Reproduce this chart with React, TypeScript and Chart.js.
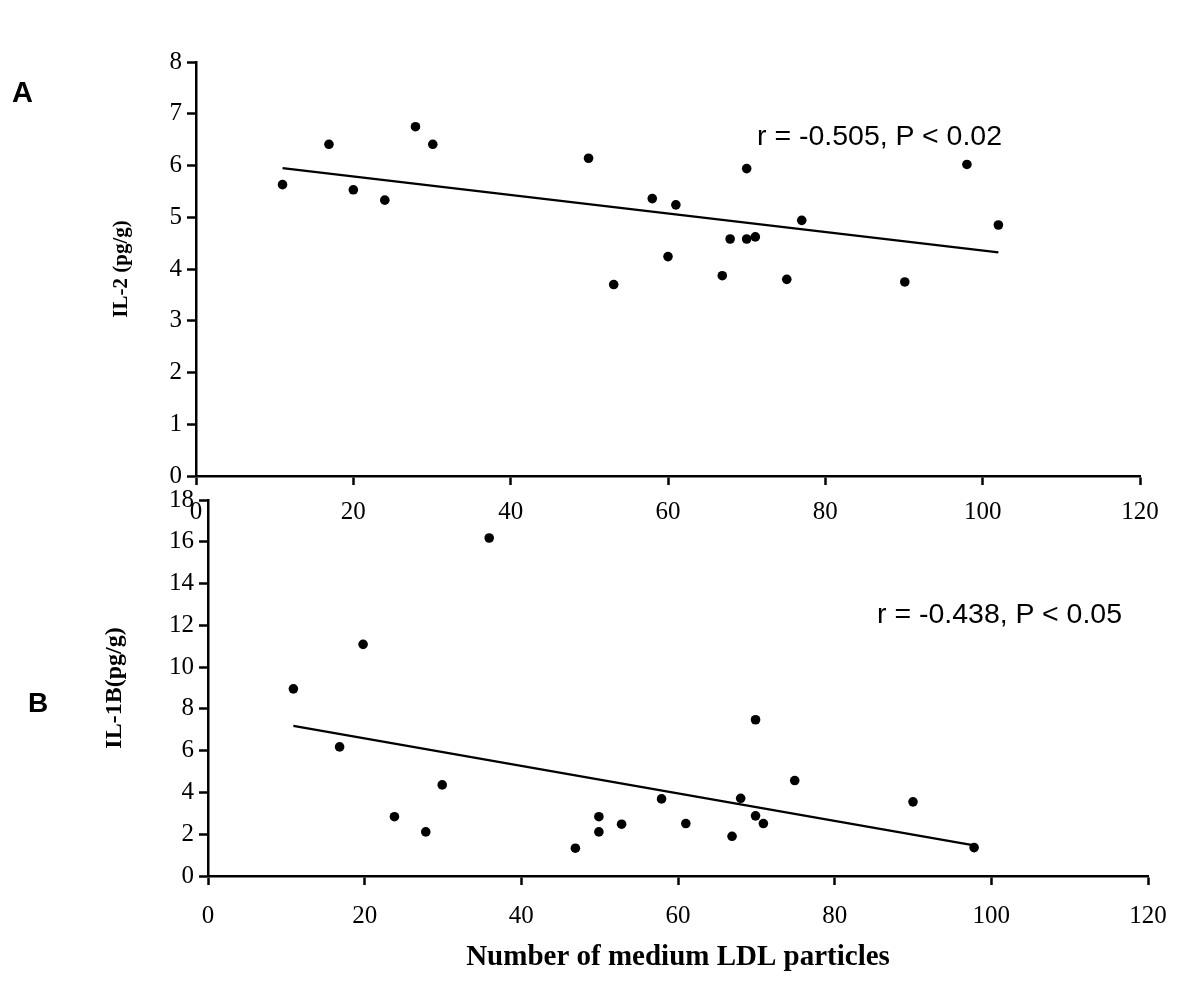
import React, { useEffect, useRef } from "react";
import { Chart, registerables } from "chart.js";

Chart.register(...registerables);

// ---------- Data ----------
// Panel A: IL-2 (pg/g) vs number of medium LDL particles
const aX = [11.0, 16.9, 20.0, 24.0, 27.9, 30.1, 49.9, 53.1, 58.0, 60.0, 61.0, 66.9, 67.9, 70.0, 70.0, 71.1, 75.1, 77.0, 90.1, 98.0, 102.0];
const aY = [5.63, 6.41, 5.53, 5.33, 6.75, 6.41, 6.14, 3.70, 5.36, 4.24, 5.24, 3.87, 4.58, 5.94, 4.58, 4.62, 3.80, 4.94, 3.75, 6.02, 4.85];
const aTrendX = [11, 102];
const aTrendY = [5.95, 4.32];

// Panel B: IL-1B (pg/g) vs number of medium LDL particles
const bX = [10.9, 16.8, 19.8, 23.8, 27.8, 29.9, 35.9, 46.9, 49.9, 49.9, 52.8, 57.9, 61.0, 66.9, 68.0, 69.9, 69.9, 70.9, 74.9, 90.0, 97.8];
const bY = [8.96, 6.18, 11.09, 2.84, 2.11, 4.36, 16.18, 1.33, 2.84, 2.11, 2.48, 3.69, 2.51, 1.90, 3.72, 7.48, 2.88, 2.51, 4.57, 3.55, 1.36];
const bTrendX = [10.9, 97.8];
const bTrendY = [7.19, 1.47];

const xMin = 0;
const xMax = 120;
const xStep = 20;
const aYMax = 8;
const aYStep = 1;
const bYMax = 18;
const bYStep = 2;

const panelLabels = ["A", "B"];
const corrLabels = ["r = -0.505, P < 0.02", "r = -0.438, P < 0.05"];
const yTitles = ["IL-2 (pg/g)", "IL-1B(pg/g)"];
const xTitle = "Number of medium LDL particles";

// ---------- Styling ----------
const BLACK = "#000000";
const SERIF = "'Liberation Serif', 'Times New Roman', serif";
const SANS = "'Liberation Sans', Arial, sans-serif";

type PanelCfg = {
  xs: number[];
  ys: number[];
  tx: number[];
  ty: number[];
  yMax: number;
  yStep: number;
  width: number;
  height: number;
  pad: { left: number; right: number; top: number; bottom: number };
  yWidth: number;
  xHeight: number;
  yTitle: string;
  yTitleSize: number;
  yTitlePad: number;
  xTickPad: number;
  xTitle?: string;
};

function makeConfig(p: PanelCfg): any {
  const pts = p.xs.map((x, i) => ({ x, y: p.ys[i] }));
  const trend = p.tx.map((x, i) => ({ x, y: p.ty[i] }));
  return {
    type: "scatter",
    data: {
      datasets: [
        {
          data: pts,
          pointRadius: 4.8,
          pointHoverRadius: 4.8,
          pointBackgroundColor: BLACK,
          pointBorderColor: BLACK,
          pointBorderWidth: 0,
          showLine: false,
        },
        {
          data: trend,
          showLine: true,
          borderColor: BLACK,
          borderWidth: 2.2,
          pointRadius: 0,
          fill: false,
          tension: 0,
        },
      ],
    },
    options: {
      animation: false,
      responsive: false,
      events: [],
      layout: { padding: p.pad },
      plugins: { legend: { display: false }, tooltip: { enabled: false } },
      scales: {
        x: {
          type: "linear",
          min: xMin,
          max: xMax,
          ticks: {
            stepSize: xStep,
            color: BLACK,
            font: { family: SERIF, size: 25 },
            padding: p.xTickPad,
            maxRotation: 0,
            autoSkip: false,
          },
          grid: {
            display: true,
            drawOnChartArea: false,
            drawTicks: true,
            tickLength: 9,
            tickColor: BLACK,
            tickWidth: 2.5,
          },
          border: { display: true, color: BLACK, width: 2.5 },
          title: p.xTitle
            ? {
                display: true,
                text: p.xTitle,
                color: BLACK,
                font: { family: SERIF, size: 29, weight: "bold" },
                padding: { top: 0, bottom: 1 },
              }
            : { display: false },
          afterFit: (s: any) => {
            s.height = p.xHeight;
          },
        },
        y: {
          type: "linear",
          min: 0,
          max: p.yMax,
          ticks: {
            stepSize: p.yStep,
            color: BLACK,
            font: { family: SERIF, size: 25 },
            padding: 5,
          },
          grid: {
            display: true,
            drawOnChartArea: false,
            drawTicks: true,
            tickLength: 9,
            tickColor: BLACK,
            tickWidth: 2.5,
          },
          border: { display: true, color: BLACK, width: 2.5 },
          title: {
            display: true,
            text: p.yTitle,
            color: BLACK,
            font: { family: SERIF, size: p.yTitleSize, weight: "bold" },
            padding: { top: p.yTitlePad, bottom: 0 },
          },
          afterFit: (s: any) => {
            s.width = p.yWidth;
          },
        },
      },
    },
  };
}

// Panel A: chart area 196..1140 x 62..476 (canvas at top 0, height 540)
const panelA: PanelCfg = {
  xs: aX,
  ys: aY,
  tx: aTrendX,
  ty: aTrendY,
  yMax: aYMax,
  yStep: aYStep,
  width: 1200,
  height: 540,
  pad: { left: 100, right: 60, top: 62, bottom: 6 },
  yWidth: 96,
  xHeight: 58,
  yTitle: yTitles[0],
  yTitleSize: 21,
  yTitlePad: 9,
  xTickPad: 12,
};

// Panel B: chart area 208..1148 x 500..876 (canvas at top 480, height 506)
const panelB: PanelCfg = {
  xs: bX,
  ys: bY,
  tx: bTrendX,
  ty: bTrendY,
  yMax: bYMax,
  yStep: bYStep,
  width: 1200,
  height: 506,
  pad: { left: 97, right: 52, top: 20, bottom: 10 },
  yWidth: 111,
  xHeight: 100,
  yTitle: yTitles[1],
  yTitleSize: 24,
  yTitlePad: 3,
  xTickPad: 16,
  xTitle: xTitle,
};

function Panel({ cfg, top }: { cfg: PanelCfg; top: number }) {
  const ref = useRef<HTMLCanvasElement | null>(null);
  useEffect(() => {
    if (!ref.current) return;
    const chart = new Chart(ref.current, makeConfig(cfg));
    return () => chart.destroy();
  }, [cfg]);
  return (
    <canvas
      ref={ref}
      width={cfg.width}
      height={cfg.height}
      style={{ position: "absolute", left: 0, top, width: cfg.width, height: cfg.height }}
    />
  );
}

const textBase: React.CSSProperties = {
  position: "absolute",
  color: BLACK,
  whiteSpace: "nowrap",
  lineHeight: 1,
  margin: 0,
};

export default function App() {
  return (
    <div
      style={{
        position: "absolute",
        left: 0,
        top: 0,
        width: 1200,
        height: 986,
        background: "#ffffff",
        overflow: "hidden",
      }}
    >
      <Panel cfg={panelA} top={0} />
      <Panel cfg={panelB} top={480} />
      <div style={{ ...textBase, left: 12, top: 78, fontFamily: SANS, fontWeight: "bold", fontSize: 29 }}>
        {panelLabels[0]}
      </div>
      <div style={{ ...textBase, left: 28, top: 689, fontFamily: SANS, fontWeight: "bold", fontSize: 28 }}>
        {panelLabels[1]}
      </div>
      <div style={{ ...textBase, left: 757, top: 121, fontFamily: SANS, fontSize: 28.5 }}>{corrLabels[0]}</div>
      <div style={{ ...textBase, left: 877, top: 599, fontFamily: SANS, fontSize: 28.5 }}>{corrLabels[1]}</div>
    </div>
  );
}
